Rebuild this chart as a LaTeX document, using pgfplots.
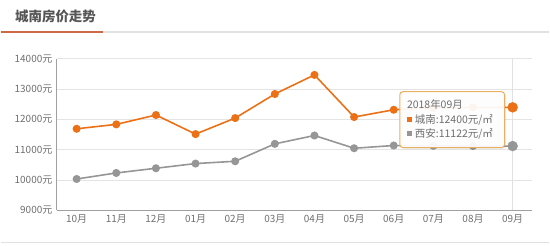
\documentclass[border=0pt]{standalone}
\usepackage{pgfplots}
\pgfplotsset{compat=1.18}
\usepackage{fontspec}
\setmainfont{Noto Sans CJK SC}
\definecolor{org}{RGB}{236,112,22}
\definecolor{grayln}{RGB}{150,150,150}
\definecolor{titleline}{RGB}{205,105,70}
\definecolor{lightline}{RGB}{225,225,225}
\definecolor{gridgray}{RGB}{228,228,228}
\definecolor{axisgray}{RGB}{160,160,160}
\definecolor{labelgray}{RGB}{110,110,110}
\definecolor{titlegray}{RGB}{85,85,85}
\definecolor{tipborder}{RGB}{235,175,100}
\begin{document}
\begin{tikzpicture}
\path (0pt,0pt) rectangle (550pt,246pt);
\draw[titleline, line width=2pt] (0pt,214pt) -- (102pt,214pt);
\draw[lightline, line width=1.2pt] (102pt,214pt) -- (550pt,214pt);
\node[anchor=west, font=\fontsize{13.5}{15}\selectfont\bfseries, text=titlegray, inner sep=0pt] at (14pt,230pt) {城南房价走势};
\draw[lightline, line width=1pt] (0pt,2.5pt) -- (550pt,2.5pt);
\begin{axis}[at={(56pt,35pt)}, anchor=south west, scale only axis,
  width=477pt, height=152pt,
  xmin=-0.5, xmax=11.5, ymin=9000, ymax=14000,
  axis x line*=bottom, axis y line*=left,
  axis line style={draw=axisgray, line width=1.3pt},
  scaled y ticks=false,
  ytick={9000,10000,11000,12000,13000,14000},
  yticklabels={9000元,10000元,11000元,12000元,13000元,14000元},
  xtick={0,1,2,3,4,5,6,7,8,9,10,11},
  xticklabels={10月,11月,12月,01月,02月,03月,04月,05月,06月,07月,08月,09月},
  extra x ticks={11}, extra x tick labels={},
  extra x tick style={grid=major, major grid style={draw=lightline, line width=1pt}},
  ymajorgrids, grid style={draw=gridgray, line width=0.8pt},
  tick style={draw=none},
  ticklabel style={font=\fontsize{10}{12}\selectfont, text=labelgray},
  yticklabel style={xshift=-1pt},
  xticklabel style={yshift=-1pt},
  /pgf/number format/assume math mode=true,
  clip=false]
\addplot[grayln, line width=1.6pt, mark=*, mark size=3.2pt, mark options={fill=grayln, draw=grayln}]
 coordinates {(0,10036) (1,10235) (2,10390) (3,10545) (4,10620) (5,11195) (6,11470) (7,11050) (8,11140) (9,11130) (10,11120) (11,11122)};
\addplot[org, line width=1.6pt, mark=*, mark size=3.2pt, mark options={fill=org, draw=org}]
 coordinates {(0,11692) (1,11838) (2,12146) (3,11517) (4,12046) (5,12840) (6,13470) (7,12080) (8,12320) (9,12380) (10,12400) (11,12400)};
\addplot[only marks, mark=*, mark size=5pt, grayln, mark options={fill=grayln, draw=grayln}] coordinates {(11,11122)};
\addplot[only marks, mark=*, mark size=5pt, org, mark options={fill=org, draw=org}] coordinates {(11,12400)};
\end{axis}
\fill[black, opacity=0.06, rounded corners=3pt] (401pt,96.5pt) rectangle (506.5pt,153pt);
\draw[rounded corners=3pt, fill=white, fill opacity=0.93, draw=tipborder, line width=1pt] (400pt,98pt) rectangle (505pt,154pt);
\node[anchor=west, inner sep=0pt, font=\fontsize{10.5}{12}\selectfont, text=labelgray] at (407pt,141pt) {2018年09月};
\fill[org] (407.5pt,123.5pt) rectangle (412.5pt,128.5pt);
\node[anchor=west, inner sep=0pt, font=\fontsize{10.5}{12}\selectfont, text=labelgray] at (415pt,126pt) {城南:12400元/㎡};
\fill[grayln] (407.5pt,109.5pt) rectangle (412.5pt,114.5pt);
\node[anchor=west, inner sep=0pt, font=\fontsize{10.5}{12}\selectfont, text=labelgray] at (415pt,112pt) {西安:11122元/㎡};
\end{tikzpicture}
\end{document}
